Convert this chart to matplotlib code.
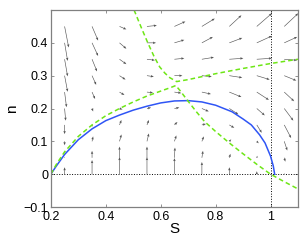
import numpy as np
import matplotlib
matplotlib.use("Agg")
import matplotlib.pyplot as plt

plt.rcParams['font.family'] = ['Liberation Sans', 'DejaVu Sans']

# grid of the direction field
S_grid = [0.25, 0.35, 0.45, 0.55, 0.65, 0.75, 0.85, 0.95, 1.05]
n_grid = [0.0, 0.05, 0.10, 0.15, 0.20, 0.25, 0.30, 0.35, 0.40, 0.45]

# arrow components (data units), one row per n value
dS = [
    [0.000, 0.000, 0.000, 0.000, 0.000, 0.000, 0.000, 0.000, 0.000],
    [0.000, 0.000, 0.000, 0.000, 0.002, 0.004, 0.004, 0.002, 0.004],
    [0.000, 0.004, 0.007, 0.007, 0.007, 0.007, 0.007, 0.007, 0.011],
    [0.000, 0.000, 0.007, 0.007, 0.011, 0.015, 0.018, 0.018, 0.025],
    [0.004, 0.004, 0.011, 0.015, 0.018, 0.025, 0.033, 0.029, 0.033],
    [0.007, 0.011, 0.018, 0.022, 0.025, 0.033, 0.044, 0.044, 0.036],
    [0.011, 0.015, 0.022, 0.025, 0.029, 0.036, 0.047, 0.047, 0.044],
    [0.011, 0.018, 0.025, 0.029, 0.036, 0.044, 0.051, 0.055, 0.047],
    [0.011, 0.022, 0.025, 0.033, 0.036, 0.040, 0.047, 0.055, 0.047],
    [0.015, 0.022, 0.025, 0.036, 0.040, 0.047, 0.044, 0.055, 0.051],
]
dn = [
    [0.021, 0.043, 0.052, 0.052, 0.049, 0.037, 0.021, 0.009, 0.003],
    [0.003, 0.021, 0.034, 0.034, 0.031, 0.021, 0.012, 0.006, -0.012],
    [-0.012, 0.015, 0.021, 0.024, 0.018, 0.015, 0.006, -0.006, -0.028],
    [-0.028, -0.006, 0.015, 0.015, 0.009, 0.003, -0.009, -0.024, -0.040],
    [-0.037, -0.009, -0.003, 0.003, 0.003, -0.009, -0.018, -0.021, -0.037],
    [-0.046, -0.021, -0.009, -0.002, -0.003, -0.006, -0.015, -0.024, -0.028],
    [-0.049, -0.028, -0.012, -0.003, 0.000, -0.003, -0.006, -0.012, -0.015],
    [-0.052, -0.037, -0.015, -0.003, 0.003, 0.006, 0.003, 0.003, -0.003],
    [-0.055, -0.040, -0.018, 0.000, 0.009, 0.018, 0.015, 0.021, 0.018],
    [-0.064, -0.043, -0.009, 0.003, 0.015, 0.024, 0.034, 0.040, 0.040],
]

# trajectory (blue)
traj_S = [0.20, 0.22, 0.25, 0.30, 0.35, 0.40, 0.45, 0.50, 0.55, 0.60, 0.65, 0.70,
          0.75, 0.80, 0.86, 0.90, 0.93, 0.96, 0.98, 1.00, 1.01, 1.015]
traj_n = [0.000, 0.025, 0.060, 0.105, 0.138, 0.163, 0.180, 0.195, 0.207, 0.217, 0.223, 0.224,
          0.220, 0.210, 0.190, 0.168, 0.150, 0.120, 0.095, 0.055, 0.025, 0.000]

# nullclines (green dashed)
ncA_S = [0.20, 0.22, 0.25, 0.30, 0.35, 0.40, 0.45, 0.50, 0.55, 0.60, 0.64, 0.655,
         0.67, 0.70, 0.73, 0.76, 0.80, 0.85, 0.90, 0.95, 1.00, 1.05, 1.10]
ncA_n = [0.000, 0.030, 0.068, 0.115, 0.150, 0.178, 0.200, 0.220, 0.238, 0.253, 0.265, 0.270,
         0.255, 0.222, 0.190, 0.160, 0.130, 0.095, 0.062, 0.030, 0.000, -0.023, -0.045]
ncB_S = [0.503, 0.53, 0.553, 0.575, 0.596, 0.615, 0.633, 0.658, 0.70, 0.80, 0.90, 1.00, 1.10]
ncB_n = [0.500, 0.445, 0.400, 0.360, 0.327, 0.308, 0.294, 0.282, 0.288, 0.306, 0.322, 0.337, 0.350]

fig = plt.figure(figsize=(3.01, 2.40), dpi=100)
ax = fig.add_axes([0.169, 0.1375, 0.821, 0.8208])

SS, NN = np.meshgrid(S_grid, n_grid)
ax.quiver(SS, NN, np.array(dS), np.array(dn), angles='xy', scale_units='xy', scale=1,
          color='#555555', width=0.0025, headwidth=4, headlength=5, headaxislength=4.5)

ax.axhline(0, color='k', ls=':', lw=0.7)
ax.axvline(1, color='k', ls=':', lw=0.7)

ax.plot(traj_S, traj_n, color='#2f55f5', lw=1.1)
ax.plot(ncA_S, ncA_n, color='#6ee616', lw=1.1, ls=(0, (3, 2)))
ax.plot(ncB_S, ncB_n, color='#6ee616', lw=1.1, ls=(0, (3, 2)))

ax.set_xlim(0.2, 1.1)
ax.set_ylim(-0.1, 0.5)
ax.set_xticks([0.2, 0.4, 0.6, 0.8, 1.0])
ax.set_xticklabels(['0.2', '0.4', '0.6', '0.8', '1'])
ax.set_yticks([-0.1, 0, 0.1, 0.2, 0.3, 0.4])
ax.set_yticklabels(['\u22120.1', '0', '0.1', '0.2', '0.3', '0.4'])
ax.tick_params(direction='in', length=2.5, width=0.6, labelsize=9, colors='#808080',
               labelcolor='k', top=True, right=True)
ax.tick_params(axis='x', pad=3)
ax.tick_params(axis='y', pad=2)
for sp in ax.spines.values():
    sp.set_color('#808080')
    sp.set_linewidth(0.9)

ax.set_xlabel('S', fontsize=11, labelpad=-1)
ax.set_ylabel('n', fontsize=11, labelpad=3)

fig.savefig('out.png', dpi=100)
